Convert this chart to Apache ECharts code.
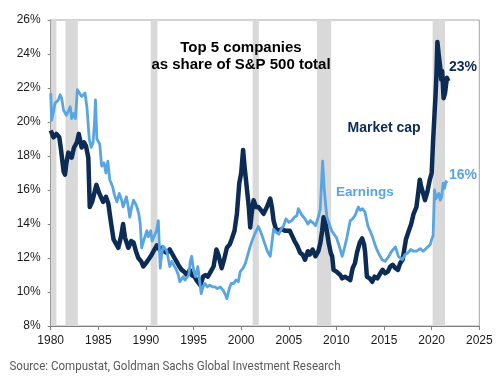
<!DOCTYPE html>
<html>
<head>
<meta charset="utf-8">
<script src="https://cdn.jsdelivr.net/npm/echarts@6/dist/echarts.min.js"></script>
<style>
html,body{margin:0;padding:0;background:#fff;}
#c{width:500px;height:385px;}
</style>
</head>
<body>
<div id="c"></div>
<script>
// ---- data ----
const xTicks = [1980, 1985, 1990, 1995, 2000, 2005, 2010, 2015, 2020, 2025];
const yTicks = [8, 10, 12, 14, 16, 18, 20, 22, 24, 26];

const recessionStart = [1980.0, 1981.55, 1990.5, 2001.2, 2007.95, 2020.1];
const recessionEnd   = [1980.6, 1982.85, 1991.2, 2001.85, 2009.45, 2021.4];

const mcapYears = [1980.0,1980.3,1980.6,1980.9,1981.1,1981.35,1981.5,1981.65,1981.85,1982.2,1982.45,1982.75,1982.95,1983.25,1983.5,1983.7,1983.95,1984.1,1984.35,1984.8,1985.1,1985.5,1985.8,1986.05,1986.3,1986.6,1986.9,1987.1,1987.4,1987.6,1987.8,1988.15,1988.45,1988.7,1988.95,1989.2,1989.5,1989.73,1990.0,1990.25,1990.5,1990.8,1991.15,1991.4,1991.65,1991.9,1992.2,1992.5,1992.7,1993.0,1993.2,1993.5,1993.75,1994.0,1994.3,1994.6,1994.8,1995.1,1995.3,1995.5,1995.7,1996.0,1996.25,1996.5,1996.8,1997.1,1997.4,1997.6,1997.95,1998.2,1998.5,1998.8,1999.0,1999.3,1999.55,1999.8,2000.0,2000.2,2000.35,2000.5,2000.8,2000.95,2001.1,2001.3,2001.55,2001.8,2002.1,2002.35,2002.7,2003.05,2003.25,2003.4,2003.7,2003.9,2004.3,2004.6,2005.1,2005.35,2005.6,2005.9,2006.2,2006.45,2006.7,2007.0,2007.2,2007.5,2007.8,2008.1,2008.3,2008.5,2008.65,2008.9,2009.2,2009.4,2009.55,2009.7,2010.0,2010.4,2010.6,2010.9,2011.2,2011.45,2011.7,2011.95,2012.15,2012.45,2012.7,2012.9,2013.0,2013.2,2013.5,2013.75,2014.0,2014.3,2014.6,2014.85,2015.1,2015.4,2015.65,2015.9,2016.2,2016.45,2016.7,2016.95,2017.15,2017.3,2017.6,2017.85,2018.1,2018.4,2018.6,2018.75,2018.9,2019.1,2019.3,2019.55,2019.8,2020.0,2020.15,2020.3,2020.4,2020.5,2020.6,2020.75,2020.9,2021.0,2021.1,2021.25,2021.4,2021.6,2021.75];
const mcapValues = [19.5,19.1,19.3,19.1,18.3,17.1,16.9,17.6,18.2,17.9,18.5,18.8,19.3,18.5,18.8,18.6,17.9,15.0,15.3,16.3,15.8,15.3,15.6,15.2,14.2,13.1,12.8,12.6,13.3,14.0,13.2,12.6,13.0,12.9,12.4,12.0,11.8,11.5,11.7,11.9,12.1,12.4,12.75,12.5,12.6,12.4,12.3,12.5,12.4,12.0,11.8,11.5,11.3,11.2,11.0,11.3,11.0,10.9,10.7,10.6,10.4,10.9,11.0,10.9,11.2,11.5,12.5,12.2,11.4,11.9,12.6,12.8,13.1,13.6,14.6,16.4,17.0,18.35,17.4,16.6,15.0,13.8,14.6,15.4,15.0,15.0,14.8,14.6,15.0,15.5,14.9,14.2,13.6,13.5,13.7,13.6,13.6,13.3,13.0,12.7,12.3,12.2,11.9,12.4,12.2,12.5,12.1,12.4,12.85,13.6,14.4,13.9,12.85,12.3,12.1,11.3,11.2,11.0,10.8,10.9,10.8,10.7,11.4,11.7,12.3,12.9,13.15,12.8,12.4,10.9,10.8,10.6,10.9,10.8,11.1,11.3,11.1,11.2,11.5,11.6,11.4,11.3,11.7,11.9,12.6,13.1,13.6,14.0,14.6,15.0,15.9,16.6,16.2,15.8,15.4,15.9,16.6,17.0,18.9,20.5,21.5,22.8,24.7,23.9,23.2,22.5,23.0,21.4,21.7,22.6,22.4];

const earnYears = [1980.0,1980.1,1980.3,1980.45,1980.8,1981.0,1981.15,1981.35,1981.65,1982.05,1982.2,1982.4,1982.6,1982.8,1983.0,1983.25,1983.6,1983.8,1984.05,1984.25,1984.45,1984.6,1984.7,1984.85,1985.15,1985.35,1985.6,1985.8,1986.0,1986.2,1986.5,1986.7,1986.95,1987.2,1987.45,1987.6,1987.95,1988.15,1988.3,1988.5,1988.7,1988.9,1989.05,1989.25,1989.4,1989.55,1989.75,1989.9,1990.1,1990.25,1990.5,1990.65,1990.8,1991.1,1991.3,1991.5,1991.65,1991.8,1992.0,1992.2,1992.5,1992.7,1992.9,1993.2,1993.4,1993.55,1993.9,1994.1,1994.3,1994.5,1994.65,1994.8,1995.0,1995.2,1995.45,1995.6,1995.8,1996.0,1996.2,1996.45,1996.7,1997.0,1997.25,1997.5,1997.8,1998.1,1998.3,1998.5,1998.75,1998.95,1999.2,1999.45,1999.7,1999.9,2000.2,2000.45,2000.7,2000.95,2001.2,2001.5,2001.8,2002.0,2002.2,2002.5,2002.75,2003.05,2003.25,2003.4,2003.7,2003.95,2004.2,2004.45,2004.7,2005.0,2005.3,2005.6,2005.85,2006.0,2006.2,2006.4,2006.7,2007.0,2007.25,2007.5,2007.8,2007.95,2008.15,2008.3,2008.45,2008.55,2008.7,2008.85,2009.0,2009.25,2009.5,2009.75,2010.0,2010.3,2010.6,2010.8,2011.1,2011.45,2011.7,2011.95,2012.3,2012.5,2012.75,2013.0,2013.3,2013.75,2014.1,2014.4,2014.8,2015.1,2015.5,2015.8,2016.2,2016.5,2016.9,2017.2,2017.5,2017.8,2018.1,2018.4,2018.8,2019.1,2019.5,2019.85,2020.0,2020.15,2020.3,2020.45,2020.6,2020.75,2020.9,2021.05,2021.2,2021.35,2021.5,2021.6];
const earnValues = [21.7,20.1,20.6,21.1,21.3,21.6,21.4,20.7,20.4,20.9,20.2,20.5,20.2,21.9,21.8,21.5,21.7,20.9,19.0,18.5,18.8,20.0,21.3,19.0,18.7,17.4,17.6,17.0,17.7,16.6,16.2,15.7,15.3,15.8,15.4,15.0,15.6,15.0,14.4,15.0,15.4,15.2,15.0,14.6,14.0,12.6,13.0,12.9,13.6,13.25,13.6,13.0,12.9,13.6,14.2,11.4,12.2,12.7,12.6,12.4,11.5,11.8,11.6,11.3,11.0,10.6,10.9,10.7,10.6,11.0,11.8,12.1,11.3,10.9,11.5,10.8,9.9,10.3,10.5,10.3,10.4,10.3,10.3,10.2,10.3,10.1,9.9,9.6,10.2,10.5,10.5,10.7,10.6,11.2,11.4,11.7,12.2,12.7,13.1,13.5,13.85,13.6,13.3,12.8,12.4,12.1,13.0,13.7,13.5,13.4,13.7,13.9,14.3,14.1,14.2,14.4,14.5,14.9,15.0,14.5,14.3,14.0,14.2,14.1,13.9,13.8,14.5,14.9,16.6,17.7,16.2,15.2,14.4,14.0,13.6,13.4,13.2,12.7,12.1,12.5,13.2,14.2,14.3,14.5,15.0,14.8,14.9,14.7,13.9,13.3,12.7,12.3,11.9,11.8,12.1,12.4,12.65,12.1,11.9,12.2,12.3,12.5,12.4,12.4,12.55,12.4,12.6,12.8,13.1,13.3,16.0,15.5,15.4,15.8,15.4,15.6,16.4,16.1,16.5,16.4];

const navy = '#0c2c56';
const light = '#59a5e2';

const pairs = (xs, ys) => xs.map((x, i) => [x, ys[i]]);

// horizontally condensed source line (reference uses a condensed face)
const srcText = 'Source: Compustat, Goldman Sachs Global Investment Research';
const srcFont = '13.5px Roboto, "Liberation Sans", sans-serif';
const mctx = document.createElement('canvas').getContext('2d');
mctx.font = srcFont;
const srcScale = 331 / mctx.measureText(srcText).width;

const boldFont = 'bold 14px "Liberation Sans", Arial, sans-serif';

const chart = echarts.init(document.getElementById('c'), null, {renderer: 'canvas'});
chart.setOption({
  animation: false,
  backgroundColor: '#ffffff',
  grid: {left: 50.7, right: 20.7, top: 20, bottom: 59, show: true, borderColor: '#a6a6a6', borderWidth: 1, backgroundColor: 'transparent'},
  xAxis: {
    type: 'value', min: xTicks[0], max: xTicks[xTicks.length - 1], interval: 5,
    axisLine: {show: true, lineStyle: {color: '#808080', width: 1}},
    axisTick: {show: true, length: 4, lineStyle: {color: '#808080'}},
    splitLine: {show: false},
    axisLabel: {margin: 9, fontSize: 12, color: '#1a1a1a', fontFamily: 'Liberation Sans, Arial, sans-serif', formatter: v => String(v)}
  },
  yAxis: {
    type: 'value', min: yTicks[0], max: yTicks[yTicks.length - 1], interval: 2,
    axisLine: {show: true, lineStyle: {color: '#808080', width: 1}},
    axisTick: {show: true, length: 3, lineStyle: {color: '#808080'}},
    splitLine: {show: false},
    axisLabel: {margin: 10, fontSize: 12, color: '#1a1a1a', fontFamily: 'Liberation Sans, Arial, sans-serif', formatter: '{value}%'}
  },
  graphic: [
    {type: 'text', x: 241, y: 39, z: 10, style: {text: 'Top 5 companies\nas share of S&P 500 total', align: 'center', textAlign: 'center', fill: '#000', font: 'bold 15px "Liberation Sans", Arial, sans-serif', lineHeight: 17.5}},
    {type: 'text', x: 347.5, y: 121, z: 10, style: {text: 'Market cap', fill: navy, font: boldFont}},
    {type: 'text', x: 449, y: 60, z: 10, style: {text: '23%', fill: navy, font: boldFont}},
    {type: 'text', x: 449, y: 168.5, z: 10, style: {text: '16%', fill: light, font: boldFont}},
    {type: 'text', x: 336, y: 185, z: 10, style: {text: 'Earnings', fill: light, font: 'bold 13.5px "Liberation Sans", Arial, sans-serif'}},
    {type: 'text', x: 9.5, y: 360, scaleX: srcScale, z: 10, style: {text: srcText, fill: '#595959', font: srcFont}}
  ],
  series: [
    {
      type: 'line', data: [], silent: true, z: 1,
      markArea: {silent: true, itemStyle: {color: '#d9d9d9'},
        data: recessionStart.map((s, i) => [{xAxis: s}, {xAxis: recessionEnd[i]}])}
    },
    {
      name: 'Market cap', type: 'line', data: pairs(mcapYears, mcapValues), showSymbol: false, z: 3,
      lineStyle: {color: navy, width: 4.5, join: 'round'}
    },
    {
      name: 'Earnings', type: 'line', data: pairs(earnYears, earnValues), showSymbol: false, z: 4,
      lineStyle: {color: light, width: 2.8, join: 'round'}
    }
  ]
});
</script>
</body>
</html>
